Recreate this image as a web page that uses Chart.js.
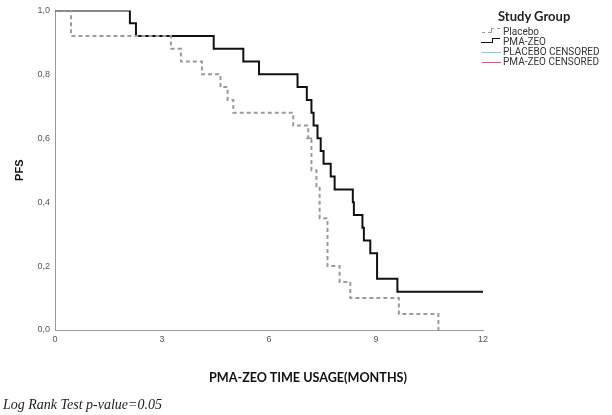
<!DOCTYPE html>
<html lang="en">
<head>
    <meta charset="UTF-8">
    <title>PFS by Study Group</title>
    <style>
        body { margin: 0; background: #fff; }
        .wrap { position: relative; width: 612px; height: 415px; }
        #km { position: absolute; left: 0; top: 0; }
        .legend { position: absolute; left: 478px; top: 8px; font-family: Roboto, "Liberation Sans", Arial, sans-serif; font-size: 10px; color: #333; }
        .legend h3 { margin: 0 0 3px 20px; font-family: Lato, sans-serif; font-size: 13px; font-weight: bold; color: #222; }
        .legend .row { position: relative; height: 10px; line-height: 10px; padding-left: 25px; white-space: nowrap; }
        .legend .a { position: absolute; top: 5px; height: 0; }
        .xtitle { position: absolute; left: 0; width: 616px; top: 370px; text-align: center; font-family: Lato, sans-serif; font-size: 12.6px; font-weight: bold; color: #111; }
        .note { position: absolute; left: 3px; top: 397px; line-height: 16px; font-family: "Liberation Serif", "Times New Roman", serif; font-style: italic; font-size: 14px; color: #222; }
    </style>
</head>
<body>
    <div class="wrap">
        <canvas id="km" width="612" height="415"></canvas>
        <div class="legend" id="legend"><h3>Study Group</h3></div>
        <div class="xtitle">PMA-ZEO TIME USAGE(MONTHS)</div>
        <div class="note">Log Rank Test p-value=0.05</div>
    </div>
    <script src="https://cdn.jsdelivr.net/npm/chart.js"></script>
    <script>
        // survival: time in months, PFS after the step
        const placeboTimes = [0, 0.45, 3.25, 3.53, 4.12, 4.64, 4.84, 5.0, 6.68, 7.1, 7.19, 7.33, 7.42, 7.64, 7.98, 8.28, 9.64, 10.75];
        const placeboPFS   = [1.0, 0.92, 0.88, 0.84, 0.80, 0.76, 0.72, 0.68, 0.64, 0.60, 0.50, 0.45, 0.35, 0.20, 0.15, 0.10, 0.05, 0.0];
        const pmaTimes = [0, 2.1, 2.27, 4.45, 5.28, 5.72, 6.8, 7.06, 7.19, 7.25, 7.36, 7.45, 7.53, 7.73, 7.84, 8.35, 8.38, 8.62, 8.66, 8.84, 9.03, 9.6, 12];
        const pmaPFS   = [1.0, 0.96, 0.92, 0.88, 0.84, 0.80, 0.76, 0.72, 0.68, 0.64, 0.60, 0.56, 0.52, 0.48, 0.44, 0.40, 0.36, 0.32, 0.28, 0.24, 0.16, 0.12, 0.12];
        const placeboCensTimes = [7.12];
        const placeboCensPFS   = [0.60];
        const pmaCensTimes = [4.25];
        const pmaCensPFS   = [0.92];
        const groupLabels = ['Placebo', 'PMA-ZEO', 'PLACEBO CENSORED', 'PMA-ZEO CENSORED'];
        const xTicks = [0, 3, 6, 9, 12];

        const toPoints = (xs, ys) => xs.map((x, i) => ({ x: x, y: ys[i] }));

        const baseFont = { family: '"Liberation Sans", Arial, sans-serif', size: 9 };

        new Chart(document.getElementById('km'), {
            type: 'line',
            data: {
                datasets: [{
                    label: groupLabels[0],
                    data: toPoints(placeboTimes, placeboPFS),
                    stepped: 'before',
                    borderColor: '#9a9a9a',
                    borderWidth: 2,
                    borderDash: [4, 3],
                    pointRadius: 0,
                    fill: false
                }, {
                    label: groupLabels[1],
                    data: toPoints(pmaTimes, pmaPFS),
                    stepped: 'before',
                    borderColor: '#111',
                    borderWidth: 2,
                    pointRadius: 0,
                    fill: false
                }, {
                    type: 'scatter',
                    label: groupLabels[2],
                    data: toPoints(placeboCensTimes, placeboCensPFS),
                    pointStyle: 'line',
                    pointRadius: 3,
                    borderColor: '#7f9cc4',
                    borderWidth: 1.5
                }, {
                    type: 'scatter',
                    label: groupLabels[3],
                    data: toPoints(pmaCensTimes, pmaCensPFS),
                    pointStyle: 'line',
                    pointRadius: 3,
                    borderColor: '#c0607a',
                    borderWidth: 1.5
                }]
            },
            options: {
                responsive: false,
                animation: false,
                layout: { padding: { top: 6, right: 129, bottom: 25, left: 0 } },
                plugins: { legend: { display: false }, tooltip: { enabled: false } },
                scales: {
                    x: {
                        type: 'linear',
                        min: 0,
                        max: 12,
                        afterBuildTicks: s => { s.ticks = xTicks.map(v => ({ value: v })); },
                        afterFit: s => { s.height = 60; },
                        grid: { display: false, drawTicks: false },
                        border: { color: '#9a9a9a', width: 1 },
                        ticks: { color: '#555', font: baseFont, padding: 4, maxRotation: 0 }
                    },
                    y: {
                        min: 0,
                        max: 1,
                        afterFit: s => { s.width = 55; },
                        grid: { display: false, drawTicks: false },
                        border: { color: '#9a9a9a', width: 1 },
                        ticks: {
                            stepSize: 0.2,
                            color: '#555',
                            font: baseFont,
                            padding: 5,
                            callback: v => v.toFixed(1).replace('.', ',')
                        },
                        title: {
                            display: true,
                            text: 'PFS',
                            color: '#111',
                            font: { family: '"Liberation Sans", Arial, sans-serif', size: 11, weight: 'bold' },
                            padding: { top: 13, bottom: 0 }
                        }
                    }
                }
            }
        });

        // legend rows with little line samples
        const samples = [
            '<span class="a" style="left:4px;width:9px;border-top:1.5px dashed #9a9a9a"></span>' +
            '<span class="a" style="left:13px;top:1px;width:8px;height:4px;border-top:1.5px dashed #9a9a9a;border-left:1.5px dashed #9a9a9a"></span>',
            '<span class="a" style="left:3px;width:11px;border-top:1.5px solid #111"></span>' +
            '<span class="a" style="left:14px;top:1px;width:7px;height:4px;border-top:1.5px solid #111;border-left:1.5px solid #111"></span>',
            '<span class="a" style="left:4px;width:19px;border-top:1px solid #9fb8d8"></span>',
            '<span class="a" style="left:4px;width:19px;border-top:1px solid #c0607a"></span>'
        ];
        const legend = document.getElementById('legend');
        groupLabels.forEach((label, i) => {
            const row = document.createElement('div');
            row.className = 'row';
            row.innerHTML = samples[i] + label;
            legend.appendChild(row);
        });
    </script>
</body>
</html>
